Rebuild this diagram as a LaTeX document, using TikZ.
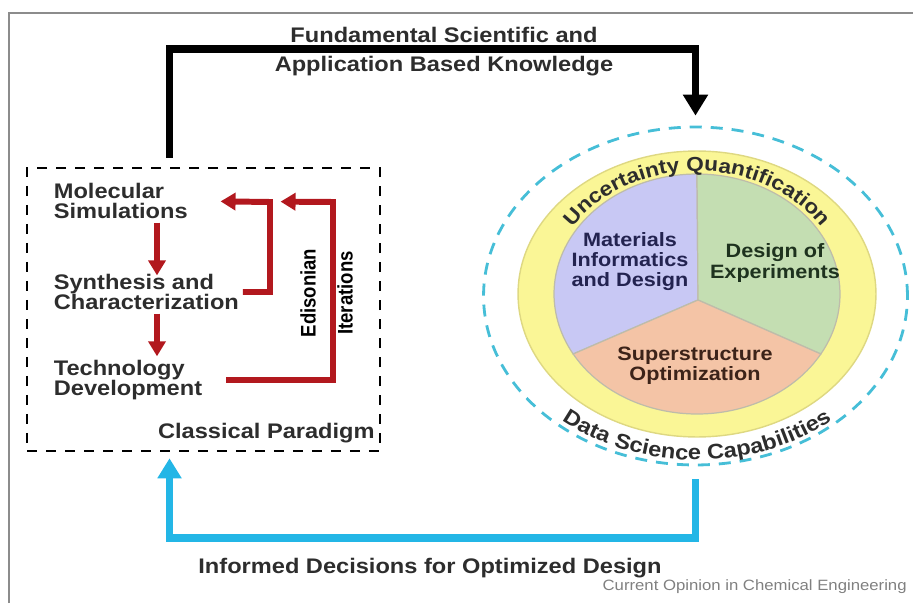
\documentclass[tikz,border=0pt]{standalone}
\usepackage{fontspec}
\setmainfont{Liberation Sans}[FakeStretch=1.12]
\newfontfamily\rotfont{Liberation Sans}[FakeStretch=0.88]
\usetikzlibrary{shapes.geometric,arrows.meta,positioning,calc,decorations.text}
\definecolor{loopred}{RGB}{178,24,30}
\definecolor{feedcyan}{RGB}{35,182,230}
\definecolor{ringcyan}{RGB}{70,190,215}
\definecolor{uqyellow}{RGB}{250,246,150}
\definecolor{uqedge}{RGB}{222,216,130}
\definecolor{midlav}{RGB}{200,200,244}
\definecolor{doegreen}{RGB}{196,222,178}
\definecolor{optsalmon}{RGB}{244,196,166}
\definecolor{slicegray}{RGB}{190,188,170}
\definecolor{textgray}{RGB}{45,45,45}
\definecolor{framegray}{RGB}{140,140,140}

\begin{document}
\begin{tikzpicture}[
    x=0.02cm, y=0.02cm,
    every node/.style={font=\bfseries\fontsize{12}{11.4}\selectfont, text=textgray},
    stage/.style={align=left, anchor=west, inner sep=2pt},
    toplbl/.style={anchor=base, inner sep=0pt},
    slicelbl/.style={align=center, font=\bfseries\fontsize{11}{11.4}\selectfont},
    iterlbl/.style={rotate=90, text=black, font=\rotfont\bfseries\fontsize{12}{12}\selectfont},
    redarrow/.style={draw=loopred, line width=3.4pt, -{Triangle[width=0.34cm,length=0.3cm]}},
    knowarrow/.style={draw=black, line width=4.2pt, -{Triangle[width=0.48cm,length=0.42cm]}},
    feedarrow/.style={draw=feedcyan, line width=4pt, -{Triangle[width=0.46cm,length=0.4cm]}}
]
\useasboundingbox (0,0) rectangle (913,603);

% Outer frame
\draw[framegray, line width=0.8pt] (9,0) -- (9,590) -- (913,590);

% Classical paradigm box
\node[draw, line width=1.5pt, dash pattern=on 0.2cm off 0.18cm, minimum width=7.06cm, minimum height=5.66cm] (classical) at (203.5,293.5) {};
\node[stage] (molsim) at (50,402) {Molecular\\Simulations};
\node[stage] (synth) at (50,311) {Synthesis and\\Characterization};
\node[stage] (techdev) at (50,223) {Technology\\Development};
\node[anchor=base east, inner sep=0pt] (classlbl) at (375,165) {Classical Paradigm};

% Edisonian iterations
\coordinate (dnx) at (157,0);
\coordinate (loopa) at (270,401);
\coordinate (loopb) at (333,401);
\draw[redarrow, shorten >=-0.1cm] (molsim.south -| dnx) -- (synth.north -| dnx);
\draw[redarrow] (synth.south -| dnx) -- (techdev.north -| dnx);
\draw[redarrow, shorten >=0.58cm] (synth.east) -| (loopa) -- (molsim.east);
\draw[redarrow, shorten <=0.4cm, shorten >=1.78cm] (techdev.east) -| (loopb) -- (molsim.east);
\node[iterlbl] (edison) at (308,310) {Edisonian};
\node[iterlbl] (iter) at (345,310) {Iterations};

% Data science capabilities
\node[ellipse, draw=ringcyan, line width=1.6pt, dash pattern=on 0.24cm off 0.18cm, minimum width=8.48cm, minimum height=6.76cm] (dsc) at (695.5,307) {};
\begin{scope}[shift={(697,309)}]
  \filldraw[fill=uqyellow, draw=uqedge, line width=0.8pt] (0,0) ellipse [x radius=3.58cm, y radius=2.86cm];
  \coordinate (pj) at (1,-6);
  \filldraw[fill=midlav, draw=slicegray, line width=0.7pt] (pj) -- (90:2.86cm and 2.4cm) arc[start angle=90, end angle=210, x radius=2.86cm, y radius=2.4cm] -- cycle;
  \filldraw[fill=doegreen, draw=slicegray, line width=0.7pt] (pj) -- (-30:2.86cm and 2.4cm) arc[start angle=-30, end angle=90, x radius=2.86cm, y radius=2.4cm] -- cycle;
  \filldraw[fill=optsalmon, draw=slicegray, line width=0.7pt] (pj) -- (210:2.86cm and 2.4cm) arc[start angle=210, end angle=330, x radius=2.86cm, y radius=2.4cm] -- cycle;
  \path[decorate, decoration={text along path, text align=center, text color=textgray,
      text={|\bfseries\fontsize{11.5}{12}\selectfont|Uncertainty Quantification}}]
    (160:2.97cm and 2.46cm) arc[start angle=160, end angle=20, x radius=2.97cm, y radius=2.46cm];
  \path[decorate, decoration={text along path, text align=center, text color=textgray,
      text={|\bfseries\fontsize{12}{12}\selectfont|Data Science Capabilities}}]
    (200:4.16cm and 3.32cm) arc[start angle=200, end angle=340, x radius=4.16cm, y radius=3.32cm];
\end{scope}
\node[slicelbl, text={rgb,255:red,35;green,35;blue,80}] (matinf) at (630,341) {Materials\\Informatics\\and Design};
\node[slicelbl, text={rgb,255:red,30;green,50;blue,30}] (doe) at (775,340) {Design of\\Experiments};
\node[slicelbl, text={rgb,255:red,60;green,35;blue,25}] (ssopt) at (695,237) {Superstructure\\Optimization};

% Knowledge and feedback loops
\coordinate (ktop) at (444,554);
\coordinate (kbot) at (430,65);
\draw[knowarrow, shorten <=0.18cm, shorten >=0.2cm] ([xshift=-0.68cm]classical.north) |- (ktop) -| (dsc.north);
\draw[feedarrow, shorten <=0.26cm, shorten >=0.12cm] (dsc.south) |- (kbot) -| ([xshift=-0.68cm]classical.south);
\node[toplbl] (fundlbl) at (444,561) {Fundamental Scientific and};
\node[toplbl] (applbl) at (444,531) {Application Based Knowledge};
\node (infolbl) at (430,35) {Informed Decisions for Optimized Design};
\node[anchor=base east, inner sep=0pt, font=\fontsize{8.5}{10}\selectfont, text=gray] (credit) at (907,13) {Current Opinion in Chemical Engineering};

\end{tikzpicture}
\end{document}
